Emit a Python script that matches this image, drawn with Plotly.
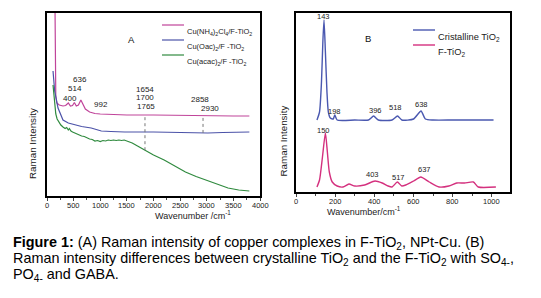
import numpy as np
import plotly.graph_objects as go

W, H = 541, 298

# ---------- Panel A data ----------
pink_a_x = [140, 150, 158, 165, 185, 230, 300, 350, 400, 440, 480, 514, 550, 590, 636, 675, 720, 800, 900, 1000, 1200, 1500, 2000, 2500, 3000, 3500, 3800]
pink_a_y = [250, 183, 120, 100, 93, 91, 90, 90.5, 93, 90, 90.5, 93.5, 90, 91, 96, 91, 87, 84, 82.5, 82, 81.5, 81, 81, 80.5, 80.5, 80, 80]

blue_a_x = [113, 144, 207, 300, 400, 520, 650, 830, 1020, 1200, 1460, 2000, 2500, 3020, 3300, 3800]
blue_a_y = [125, 105, 88, 76, 73, 71, 69.5, 68, 65, 64.5, 64, 64, 63.5, 63, 63.5, 64]

green_a_x = [113, 130, 145, 165, 190, 220, 260, 300, 340, 370, 400, 420, 450, 480, 520, 560, 600, 650, 700, 750, 800, 850, 900, 950, 1000,
             1050, 1100, 1150, 1200, 1250, 1300, 1350, 1400, 1450, 1500, 1550, 1600, 1700, 1800, 1900, 2000, 2200, 2400, 2600, 2800, 3000,
             3200, 3400, 3600, 3800]
green_a_y = [111, 100, 90, 82, 77, 74, 71, 69, 67.5, 68.5, 66, 67.5, 65, 64, 63, 62.5, 61, 60, 59.5, 58, 57, 56.5, 55, 55.5, 54.5,
             55.5, 55, 56, 55.5, 56, 55.5, 56, 55.5, 56, 55, 54, 53, 50, 47, 44, 41, 36, 30, 24, 19.5, 15.5,
             11.5, 8, 6, 5]

guide_x = [1840, 2930]

labels_a = ["636", "514", "400", "992", "1654", "1700", "1765", "2858", "2930"]
labels_a_x = [620, 526, 432, 1014, 1840, 1840, 1860, 2873, 3061]
labels_a_y = [117, 108, 98, 92, 107, 99, 90, 97, 88]

ticks_a = [0, 500, 1000, 1500, 2000, 2500, 3000, 3500, 4000]
minor_a = [250, 750, 1250, 1750, 2250, 2750, 3250, 3750]

# ---------- Panel B data ----------
blue_b_x = [107, 120, 130, 137, 143, 150, 158, 165, 175, 190, 198, 210, 300, 370, 396, 420, 490, 518, 540, 600, 638, 660, 700, 800, 900, 1008]
blue_b_y = [72, 80, 110, 150, 172, 140, 100, 80, 74, 73, 77, 72, 72, 72, 76, 72, 72, 76, 72, 73, 81, 73, 72, 72, 72, 72]

pink_b_x = [107, 120, 135, 150, 160, 170, 185, 210, 240, 270, 300, 350, 403, 440, 470, 490, 517, 540, 560, 600, 637, 680, 730, 780, 820, 860, 905, 930, 1020]
pink_b_y = [5, 12, 35, 59, 40, 20, 10, 6, 5, 8, 6, 7, 11, 9, 6, 5, 10, 6, 7, 11, 15, 10, 5, 6, 9, 9, 10, 5, 5]

labels_b = ["143", "198", "396", "518", "638", "150", "403", "517", "637"]
labels_b_x = [141, 197, 407, 508, 641, 141, 391, 524, 656]
labels_b_y = [176, 81, 82, 85, 88, 62, 18, 15, 23]

ticks_b = [0, 200, 400, 600, 800, 1000]
minor_b = [100, 300, 500, 700, 900]

legend_a = ["Cu(NH<sub>4</sub>)<sub>2</sub>Cl<sub>4</sub>/F-TiO<sub>2</sub>",
            "Cu(Oac)<sub>2</sub>/F -TiO<sub>2</sub>",
            "Cu(acac)<sub>2</sub>/F -TiO<sub>2</sub>"]
legend_b = ["Cristalline TiO<sub>2</sub>", "F-TiO<sub>2</sub>"]

caption_lines = [
    "<b>Figure 1:</b> (A) Raman intensity of copper complexes in F-TiO<sub>2</sub>, NPt-Cu. (B)",
    "Raman intensity differences between crystalline TiO<sub>2</sub> and the F-TiO<sub>2</sub> with SO<sub>4-</sub>,",
    "PO<sub>4-</sub> and GABA.",
]

C_PINK_A = "#c0449a"
C_BLUE_A = "#4b52a8"
C_GREEN_A = "#2f8a3e"
C_BLUE_B = "#4a58b0"
C_PINK_B = "#d4307e"
FONT = "Liberation Sans, Arial, sans-serif"


def px(x):
    return x / W


def py(y):
    return 1 - y / H


fig = go.Figure()

fig.add_trace(go.Scatter(x=pink_a_x, y=pink_a_y, mode="lines", line=dict(color=C_PINK_A, width=1.2), xaxis="x", yaxis="y"))
fig.add_trace(go.Scatter(x=blue_a_x, y=blue_a_y, mode="lines", line=dict(color=C_BLUE_A, width=1.2), xaxis="x", yaxis="y"))
fig.add_trace(go.Scatter(x=green_a_x, y=green_a_y, mode="lines", line=dict(color=C_GREEN_A, width=1.2), xaxis="x", yaxis="y"))

fig.add_trace(go.Scatter(x=blue_b_x, y=blue_b_y, mode="lines", line=dict(color=C_BLUE_B, width=1.4, shape="spline", smoothing=0.6), xaxis="x2", yaxis="y2"))
fig.add_trace(go.Scatter(x=pink_b_x, y=pink_b_y, mode="lines", line=dict(color=C_PINK_B, width=1.4, shape="spline", smoothing=0.6), xaxis="x2", yaxis="y2"))

g_lo = [float(np.interp(guide_x[0], green_a_x, green_a_y)), float(np.interp(guide_x[1], blue_a_x, blue_a_y))]
g_hi = [float(np.interp(g, pink_a_x, pink_a_y)) for g in guide_x]
for gx, lo, hi in zip(guide_x, g_lo, g_hi):
    fig.add_shape(type="line", xref="x", yref="y", x0=gx, x1=gx, y0=lo, y1=hi,
                  line=dict(color="#777777", width=1, dash="dot"))

ann = []
for t, x, y in zip(labels_a, labels_a_x, labels_a_y):
    ann.append(dict(text=t, x=x, y=y, xref="x", yref="y", showarrow=False, font=dict(size=8, color="#222", family=FONT)))
for t, x, y in zip(labels_b, labels_b_x, labels_b_y):
    ann.append(dict(text=t, x=x, y=y, xref="x2", yref="y2", showarrow=False, font=dict(size=7.5, color="#222", family=FONT)))
ann.append(dict(text="A", x=px(118), y=py(24), xref="paper", yref="paper", showarrow=False, font=dict(size=9.5, color="#111", family=FONT)))
ann.append(dict(text="B", x=px(365), y=py(23), xref="paper", yref="paper", showarrow=False, font=dict(size=9.5, color="#111", family=FONT)))

# tick labels as text placed under each axis
for v in ticks_a:
    ann.append(dict(text=str(v), x=v, y=py(197.5), xref="x", yref="paper", showarrow=False,
                    font=dict(size=7.5, color="#222", family=FONT)))
for v in ticks_b:
    ann.append(dict(text=str(v), x=v, y=py(194), xref="x2", yref="paper", showarrow=False,
                    font=dict(size=7.5, color="#222", family=FONT)))

for i, (t, c) in enumerate(zip(legend_a, [C_PINK_A, C_BLUE_A, C_GREEN_A])):
    yy = 17 + 15 * i
    fig.add_shape(type="line", xref="paper", yref="paper", x0=px(154), x1=px(176), y0=py(yy), y1=py(yy), line=dict(color=c, width=1.2))
    ann.append(dict(text=t, x=px(177), y=py(yy), xref="paper", yref="paper", xanchor="left", showarrow=False,
                    font=dict(size=7.5, color="#222", family=FONT)))
for i, (t, c) in enumerate(zip(legend_b, [C_BLUE_B, C_PINK_B])):
    yy = 22 + 15 * i
    fig.add_shape(type="line", xref="paper", yref="paper", x0=px(405), x1=px(427), y0=py(yy), y1=py(yy), line=dict(color=c, width=1.4))
    ann.append(dict(text=t, x=px(428), y=py(yy), xref="paper", yref="paper", xanchor="left", showarrow=False,
                    font=dict(size=9.3, color="#222", family=FONT)))

ann.append(dict(text="Raman Intensity", x=px(17), y=py(98), xref="paper", yref="paper", textangle=-90, showarrow=False,
                font=dict(size=9.8, color="#222", family=FONT)))
ann.append(dict(text="Raman Intensity", x=px(275), y=py(96), xref="paper", yref="paper", textangle=-90, showarrow=False,
                font=dict(size=9.8, color="#222", family=FONT)))
ann.append(dict(text="Wavenumber /cm<sup>-1</sup>", x=px(145), y=py(215), xref="paper", yref="paper", showarrow=False,
                font=dict(size=9, color="#222", family=FONT)))
ann.append(dict(text="Wavenumber/cm<sup>-1</sup>", x=px(395), y=py(211), xref="paper", yref="paper", showarrow=False,
                font=dict(size=9, color="#222", family=FONT)))

for i, t in enumerate(caption_lines):
    ann.append(dict(text=t, x=px(3), y=py(246 + 16 * i), xref="paper", yref="paper", xanchor="left", showarrow=False,
                    font=dict(size=14.4, color="#000", family=FONT)))

axis_common = dict(showline=True, linecolor="black", linewidth=1.5, mirror=True, showgrid=False, zeroline=False)

fig.update_layout(
    width=W, height=H, margin=dict(l=0, r=0, t=0, b=0),
    paper_bgcolor="white", plot_bgcolor="white", showlegend=False,
    font=dict(family=FONT, color="#222"),
    annotations=ann,
    xaxis=dict(domain=[px(39), px(252)], range=[0, 4000], tickvals=ticks_a, showticklabels=False,
               ticks="outside", ticklen=3, tickwidth=1, anchor="y",
               minor=dict(tickvals=minor_a, ticks="outside", ticklen=2), **axis_common),
    yaxis=dict(domain=[py(188), py(5)], range=[0, 183], showticklabels=False, ticks="", anchor="x", **axis_common),
    xaxis2=dict(domain=[px(288), px(502)], range=[0, 1092], tickvals=ticks_b, showticklabels=False,
                ticks="outside", ticklen=3, tickwidth=1, anchor="y2",
                minor=dict(tickvals=minor_b, ticks="outside", ticklen=2), **axis_common),
    yaxis2=dict(domain=[py(184), py(5)], range=[0, 179], showticklabels=False, ticks="", anchor="x2", **axis_common),
)

fig.write_html("out.html")
